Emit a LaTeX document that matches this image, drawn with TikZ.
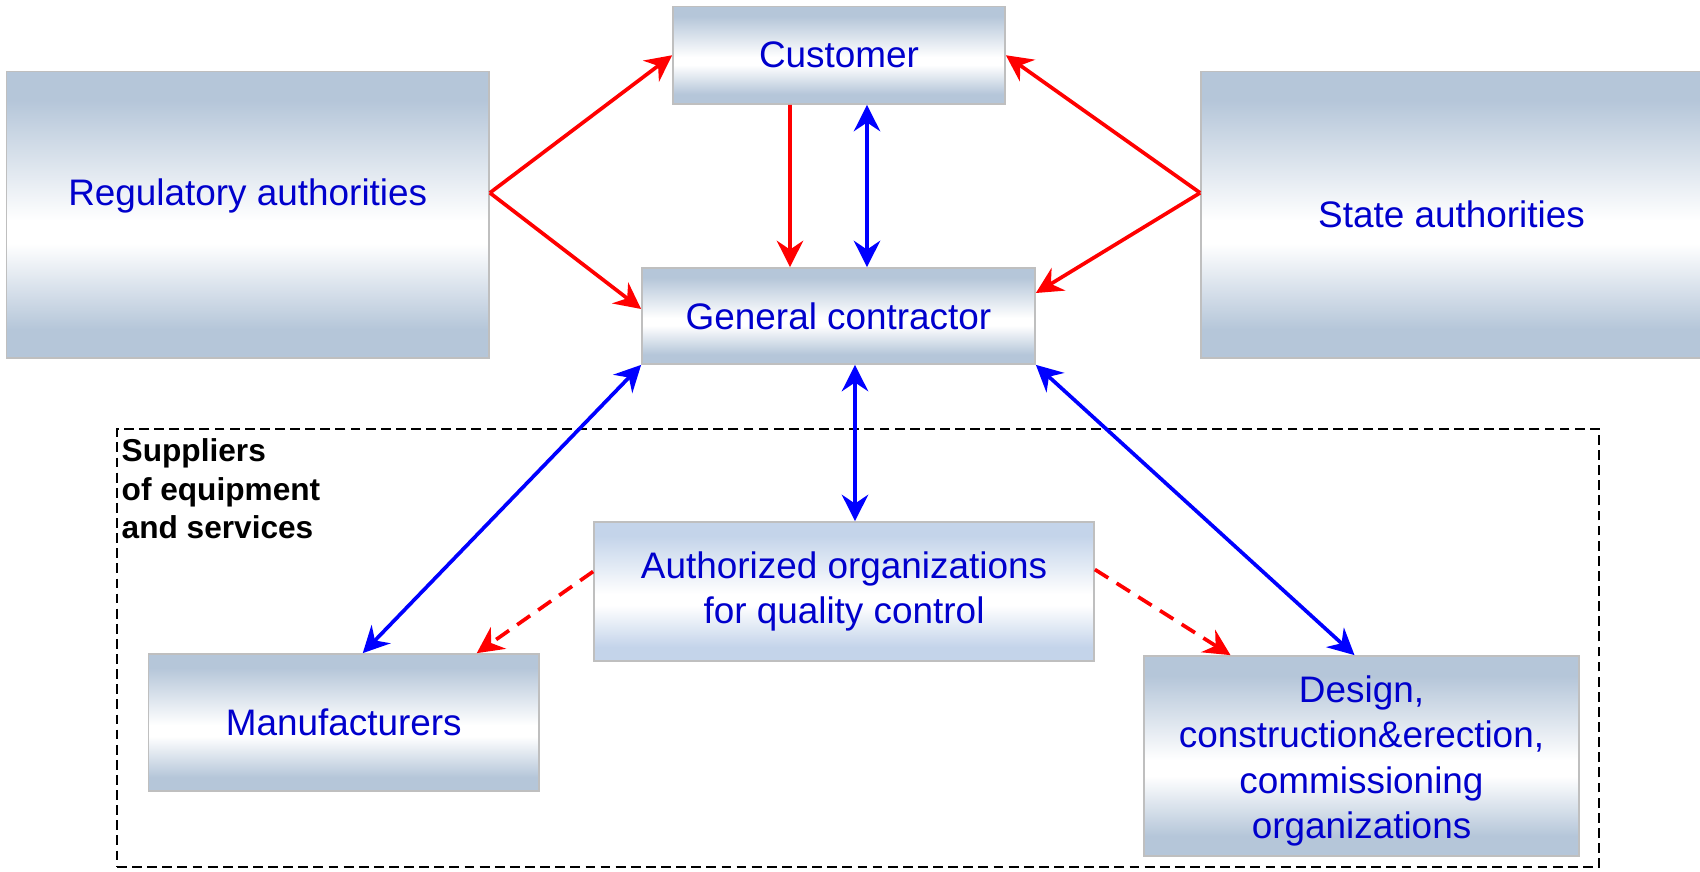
\documentclass[tikz,border=0pt]{standalone}
\usepackage{fontspec}
\setmainfont{Liberation Sans}
\usetikzlibrary{arrows.meta,calc}

\definecolor{boxblue}{RGB}{181,198,217}
\definecolor{paleblue}{RGB}{196,212,234}
\definecolor{txtblue}{RGB}{0,0,204}
\definecolor{boxedge}{RGB}{191,191,191}

\pgfdeclareverticalshading{boxshade}{100bp}{color(0bp)=(boxblue); color(30bp)=(boxblue); color(45bp)=(white); color(49bp)=(white); color(70bp)=(boxblue); color(100bp)=(boxblue)}
\pgfdeclareverticalshading{paleshade}{100bp}{color(0bp)=(paleblue); color(30bp)=(paleblue); color(45bp)=(white); color(49bp)=(white); color(70bp)=(paleblue); color(100bp)=(paleblue)}

\tikzset{
  box/.style={draw=boxedge, line width=0.5pt, shade, shading=boxshade, inner sep=0pt, align=center, text=txtblue, font=\fontsize{10.5}{12.8}\selectfont},
  palebox/.style={box, shading=paleshade},
  redarr/.style={red, line width=1.05pt, -{Stealth[length=7.5pt,width=7.5pt,inset=2.5pt]}},
  bluearr/.style={blue, line width=1.05pt, {Stealth[length=7.5pt,width=7.5pt,inset=2.5pt]}-{Stealth[length=7.5pt,width=7.5pt,inset=2.5pt]}},
  reddash/.style={redarr, dash pattern=on 4.5pt off 2.8pt}
}

\begin{document}
\begin{tikzpicture}
    \useasboundingbox (0,0) rectangle (17,-8.71);

    \node[draw, dash pattern=on 2.8pt off 1.5pt, line width=0.57pt, minimum width=14.82cm, minimum height=4.38cm, inner sep=0pt] (frame) at (8.58,-6.48) {};
    \node[anchor=north west, inner sep=0pt, align=left, font=\bfseries\fontsize{9}{11}\selectfont] (supp) at ([xshift=0.05cm,yshift=-0.1cm]frame.north west) {Suppliers\\of equipment\\and services};

    \node[box, minimum width=3.32cm, minimum height=0.975cm] (cust) at (8.39,-0.5525) {Customer};
    \node[box, minimum width=4.825cm, minimum height=2.865cm] (reg) at (2.4775,-2.1475) {};
    \node[box, minimum width=5.01cm, minimum height=2.865cm] (state) at (14.515,-2.1475) {State authorities};
    \node[box, minimum width=3.93cm, minimum height=0.96cm] (gc) at (8.385,-3.16) {General contractor};
    \node[palebox, minimum width=5cm, minimum height=1.39cm] (auth) at (8.44,-5.915) {Authorized organizations\\for quality control};
    \node[box, minimum width=3.905cm, minimum height=1.37cm] (manuf) at (3.4375,-7.225) {Manufacturers};
    \node[box, minimum width=4.35cm, minimum height=2cm] (design) at (13.615,-7.56) {};

    \node[text=txtblue, font=\fontsize{10.5}{12.8}\selectfont] (regtext) at ([yshift=-0.03cm]$(reg.north)!0.424!(reg.south)$) {Regulatory authorities};
    \node[text=txtblue, align=center, font=\fontsize{10.5}{12.9}\selectfont] (designtext) at ([yshift=-0.05cm]design.center) {Design,\\construction\&erection,\\commissioning\\organizations};
    \coordinate (regout) at ($(reg.north east)!0.424!(reg.south east)$);
    \coordinate (stateout) at ($(state.north west)!0.424!(state.south west)$);

    \draw[redarr] (regout) -- (cust.west);
    \draw[redarr] (regout) -- ([yshift=0.07cm]gc.west);
    \draw[redarr] (stateout) -- (cust.east);
    \draw[redarr] (stateout) -- ([yshift=0.23cm]gc.east);

    \draw[redarr] ([xshift=-0.49cm]cust.south) -- ([xshift=-0.485cm]gc.north);
    \draw[bluearr] ([xshift=0.28cm]cust.south) -- ([xshift=0.285cm]gc.north);

    \draw[bluearr] ([xshift=0.165cm]gc.south) -- ([xshift=0.11cm]auth.north);
    \draw[bluearr] (gc.south west) -- ([xshift=0.19cm]manuf.north);
    \draw[bluearr] (gc.south east) -- ([xshift=-0.07cm]design.north);

    \draw[reddash] ([yshift=0.2cm]auth.west) -- ([xshift=1.33cm]manuf.north);
    \draw[reddash] ([yshift=0.22cm]auth.east) -- ([xshift=-1.31cm]design.north);
\end{tikzpicture}
\end{document}
